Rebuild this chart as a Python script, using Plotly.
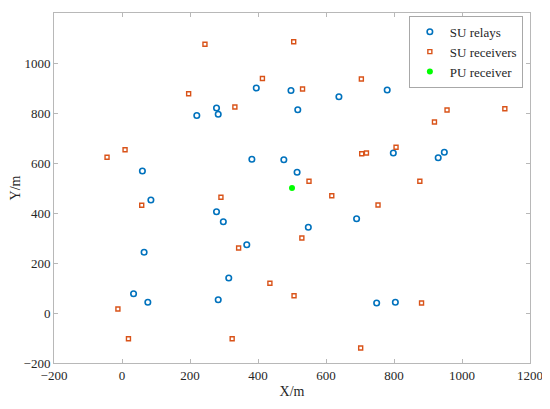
import plotly.graph_objects as go

relay_x = [220, 278, 283, 395, 497, 517, 638, 780, 925,
           60, 382, 476, 515, 798, 930, 948,
           85, 278, 298, 367, 65, 690, 548,
           314, 34, 76, 283, 749, 804]
relay_y = [790, 820, 795, 900, 890, 813, 865, 892, 928,
           568, 615, 613, 563, 640, 621, 643,
           452, 405, 365, 273, 243, 377, 343,
           140, 77, 43, 53, 40, 43]

recv_x = [244, 505, 413, 704, 196, 332, 531, 956, 1126, 919,
          9, -44, 705, 719, 806, 291, 58, 550, 876, 617,
          753, 343, 435, 506, 529, 881, -12, 19, 324, 702]
recv_y = [1075, 1085, 938, 936, 877, 824, 896, 812, 817, 764,
          653, 623, 637, 640, 663, 463, 431, 527, 527, 469,
          432, 260, 119, 69, 300, 40, 16, -103, -103, -140]

pu_x = [500]
pu_y = [500]

x_ticks = [-200, 0, 200, 400, 600, 800, 1000, 1200]
y_ticks = [-200, 0, 200, 400, 600, 800, 1000, 1200]

font = "Liberation Serif"
axis_col = "#b8b8b8"
text_col = "#262626"

fig = go.Figure()
fig.add_trace(go.Scatter(
    x=relay_x, y=relay_y, mode="markers", name="SU relays",
    marker=dict(symbol="circle-open", size=5.5, color="#0072BD",
                line=dict(width=1.6, color="#0072BD"))))
fig.add_trace(go.Scatter(
    x=recv_x, y=recv_y, mode="markers", name="SU receivers",
    marker=dict(symbol="square", size=4, color="white",
                line=dict(width=1.4, color="#D95319"))))
fig.add_trace(go.Scatter(
    x=pu_x, y=pu_y, mode="markers", name="PU receiver",
    marker=dict(symbol="circle", size=6, color="#00FF00",
                line=dict(width=0))))

axis_common = dict(
    showgrid=False, zeroline=False, showline=True, linecolor=axis_col,
    linewidth=1, mirror="ticks", ticks="inside", ticklen=4,
    tickcolor=axis_col, automargin=False,
    tickfont=dict(family=font, size=13, color=text_col),
    title_font=dict(family=font, size=14, color=text_col))

fig.update_xaxes(range=[-200, 1200], tickvals=x_ticks,
                 title_text="X/m", title_standoff=4, **axis_common)
fig.update_yaxes(range=[-200, 1200], tickvals=y_ticks,
                 title_text="Y/m", title_standoff=5, **axis_common)

# page body has an 8px default margin, so the figure is offset by 8px
fig.update_layout(
    width=542, height=401,
    margin=dict(l=46, r=20, t=5, b=46),
    paper_bgcolor="white", plot_bgcolor="white",
    font=dict(family=font, size=13, color=text_col),
    legend=dict(x=0.985, y=0.992, xanchor="right", yanchor="top",
                bgcolor="white", bordercolor="#a8a8a8", borderwidth=1,
                font=dict(family=font, size=13, color=text_col),
                tracegroupgap=0, itemwidth=30),
    showlegend=True,
)

fig.write_html("out.html")
